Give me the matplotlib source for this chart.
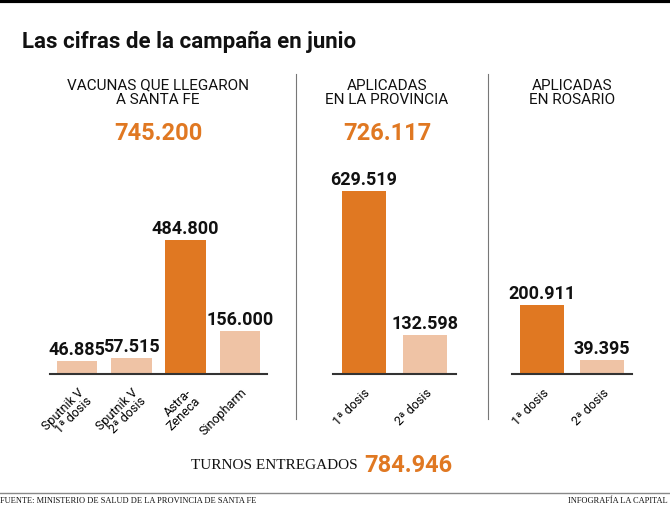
import matplotlib
matplotlib.use("Agg")
import matplotlib.pyplot as plt

cats1 = ["Sputnik V\n1ª dosis", "Sputnik V\n2ª dosis", "Astra-\nZeneca", "Sinopharm"]
vals1 = [46885, 57515, 484800, 156000]
lab1 = ["46.885", "57.515", "484.800", "156.000"]
cats2 = ["1ª dosis", "2ª dosis"]
vals2 = [629519, 132598]
lab2 = ["629.519", "132.598"]
cats3 = ["1ª dosis", "2ª dosis"]
vals3 = [200911, 39395]
lab3 = ["200.911", "39.395"]

OR = "#E07822"
LT = "#EFC3A5"
NAR = ["Roboto", "DejaVu Sans"]
W, H = 670, 506
fig = plt.figure(figsize=(6.7, 5.06), dpi=100)
fig.patch.set_facecolor("white")

def px(x, y):
    return x / W, 1 - y / H

def panel(x0, x1, cats, vals, labs, colors, ymax, bw):
    base = 375; top = 175
    ax = fig.add_axes([x0 / W, 1 - base / H, (x1 - x0) / W, (base - top) / H])
    xs = range(len(vals))
    ax.bar(xs, vals, width=bw, color=colors)
    ax.set_xlim(-0.5, len(vals) - 0.5)
    ax.set_ylim(0, ymax)
    for i, (v, l) in enumerate(zip(vals, labs)):
        ax.text(i, v + ymax * 0.015, l, ha="center", va="bottom", fontsize=13,
                fontweight="bold", family=NAR, color="#111")
    for s in ["top", "right", "left"]:
        ax.spines[s].set_visible(False)
    ax.spines["bottom"].set_color("#333")
    ax.spines["bottom"].set_linewidth(1.5)
    ax.set_yticks([])
    ax.set_xticks(list(xs))
    ax.set_xticklabels(cats, rotation=45, ha="right", rotation_mode="anchor",
                       fontsize=9, family=NAR, linespacing=0.85)
    ax.tick_params(axis="x", length=0, pad=8)
    return ax

panel(50, 267, cats1, vals1, lab1, [LT, LT, OR, LT], 723600, 0.75)
panel(333, 456, cats2, vals2, lab2, [OR, LT], 688000, 0.72)
panel(512, 632, cats3, vals3, lab3, [OR, LT], 582000, 0.74)

fig.add_artist(plt.Line2D([0, 1], [1 - 1.5 / H] * 2, color="black", lw=3))
fig.text(*px(22, 42), "Las cifras de la campaña en junio", fontsize=16,
         fontweight="bold", family=NAR, va="center", color="#111")

heads = [(158, "VACUNAS QUE LLEGARON\nA SANTA FE", "745.200"),
         (387, "APLICADAS\nEN LA PROVINCIA", "726.117"),
         (572, "APLICADAS\nEN ROSARIO", None)]
for x, h, n in heads:
    fig.text(*px(x, 93), h, ha="center", va="center", fontsize=11,
             family=NAR, color="#111", linespacing=1.05)
    if n:
        fig.text(*px(x, 133), n, ha="center", va="center", fontsize=17,
                 fontweight="bold", family=NAR, color=OR)

for x in [296, 488]:
    fig.add_artist(plt.Line2D([x / W] * 2, [1 - 75 / H, 1 - 420 / H], color="#777", lw=0.8))

fig.text(*px(358, 466), "TURNOS ENTREGADOS", ha="right", va="center", fontsize=11,
         family="Liberation Serif", color="#111")
fig.text(*px(364, 466), "784.946", ha="left", va="center", fontsize=17,
         fontweight="bold", family=NAR, color=OR)

fig.add_artist(plt.Line2D([0, 1], [1 - 494 / H] * 2, color="#888", lw=1))
fig.text(*px(0, 501), "FUENTE: MINISTERIO DE SALUD DE LA PROVINCIA DE SANTA FE", fontsize=6,
         family="Liberation Serif", va="center", color="#111")
fig.text(*px(668, 501), "INFOGRAFÍA LA CAPITAL", fontsize=6, ha="right",
         family="Liberation Serif", va="center", color="#111")

fig.savefig("out.png", dpi=100)
